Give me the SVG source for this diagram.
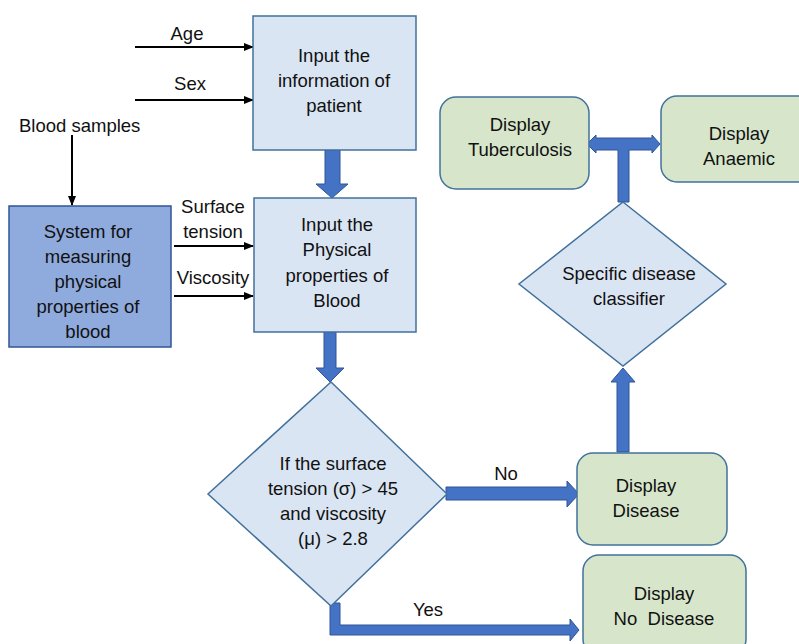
<svg xmlns="http://www.w3.org/2000/svg" width="799" height="644" viewBox="0 0 799 644">
<defs>
<style>
text{font-family:"Liberation Sans",Arial,sans-serif;font-size:18.5px;fill:#111;text-anchor:middle}
.lb{fill:#DAE5F3;stroke:#41719C;stroke-width:1.5}
.db{fill:#8FAADC;stroke:#2F5597;stroke-width:1.5}
.gb{fill:#D7E6CB;stroke:#41719C;stroke-width:1.5}
.ta{fill:#4472C4;stroke:#2F5597;stroke-width:1}
.thin{stroke:#000;stroke-width:2;fill:none;marker-end:url(#ah)}
</style>
<marker id="ah" markerWidth="10" markerHeight="8" refX="9" refY="4" orient="auto" markerUnits="userSpaceOnUse">
<path d="M0,0 L10,4 L0,8 z" fill="#000"/>
</marker>
</defs>
<rect width="799" height="644" fill="#fff"/>

<g id="connectors">
<line class="thin" x1="135" y1="47" x2="253" y2="47"/>
<line class="thin" x1="135" y1="100" x2="253" y2="100"/>
<line class="thin" x1="72" y1="135" x2="72" y2="205"/>
<line class="thin" x1="174" y1="246" x2="253" y2="246"/>
<line class="thin" x1="174" y1="296" x2="253" y2="296"/>
<polygon class="ta" points="325,150 340,150 340,184 348,184 332,198 316,184 325,184"/>
<polygon class="ta" points="324,332 336,332 336,368 344,368 330,382 316,368 324,368"/>
<polygon class="ta" points="446,487 567,487 567,481 579,494 567,507 567,500 446,500"/>
<polygon class="ta" points="330,603 340,603 340,625 570,625 570,619 579,630 570,641 570,635 330,635"/>
<polygon class="ta" points="617,452 617,382 611,382 623,368 635,382 629,382 629,452"/>
<polygon class="ta" points="618,202 618,150 596,150 596,153 587,144 596,135 596,138 652,138 652,135 660,144 652,153 652,150 629,150 629,202"/>
<text x="187" y="40">Age</text>
<text x="190" y="90">Sex</text>
<text x="213" y="213">Surface</text>
<text x="213" y="238">tension</text>
<text x="213" y="284">Viscosity</text>
<text x="506" y="480">No</text>
<text x="428" y="616">Yes</text>
</g>

<g id="blood-samples">
<text x="19" y="132" style="text-anchor:start">Blood samples</text>
</g>

<g id="input-patient">
<rect class="lb" x="253" y="16" width="163" height="134"/>
<text x="334" y="62">Input the</text>
<text x="334" y="87">information of</text>
<text x="334" y="112">patient</text>
</g>

<g id="input-physical">
<rect class="lb" x="254" y="198" width="162" height="134"/>
<text x="337" y="231">Input the</text>
<text x="337" y="256">Physical</text>
<text x="337" y="282">properties of</text>
<text x="337" y="307">Blood</text>
</g>

<g id="system">
<rect class="db" x="9" y="206" width="162" height="141"/>
<text x="88" y="238">System for</text>
<text x="88" y="263">measuring</text>
<text x="88" y="288">physical</text>
<text x="88" y="313">properties of</text>
<text x="88" y="338">blood</text>
</g>

<g id="decision">
<polygon class="lb" points="331,382 447,494 331,606 208,494"/>
<text x="333" y="470">If the surface</text>
<text x="333" y="495">tension (σ) &gt; 45</text>
<text x="333" y="520">and viscosity</text>
<text x="333" y="545">(μ) &gt; 2.8</text>
</g>

<g id="display-disease">
<rect class="gb" x="577" y="453" width="150" height="92" rx="16"/>
<text x="646" y="492">Display</text>
<text x="646" y="517">Disease</text>
</g>

<g id="display-no-disease">
<rect class="gb" x="583" y="555" width="163" height="100" rx="16"/>
<text x="664" y="600">Display</text>
<text x="664" y="625" xml:space="preserve">No  Disease</text>
</g>

<g id="classifier">
<polygon class="lb" points="623,202 726,284 623,366 519,284"/>
<text x="629" y="280">Specific disease</text>
<text x="629" y="305">classifier</text>
</g>

<g id="display-tb">
<rect class="gb" x="440" y="97" width="149" height="92" rx="16"/>
<text x="520" y="131">Display</text>
<text x="520" y="156">Tuberculosis</text>
</g>

<g id="display-anaemic">
<rect class="gb" x="661" y="96" width="160" height="86" rx="16"/>
<text x="739" y="140">Display</text>
<text x="739" y="165">Anaemic</text>
</g>
</svg>
